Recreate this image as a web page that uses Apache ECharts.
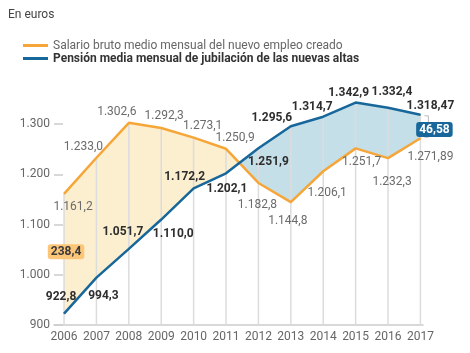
<!DOCTYPE html>
<html>
<head>
<meta charset="utf-8">
<script src="https://cdn.jsdelivr.net/npm/echarts@6/dist/echarts.min.js"></script>
<style>
  html, body { margin: 0; padding: 0; background: #fff; }
  #main { width: 470px; height: 353px; }
</style>
</head>
<body>
<div id="main"></div>
<script>
// datos
var years = [2006, 2007, 2008, 2009, 2010, 2011, 2012, 2013, 2014, 2015, 2016, 2017];
var salario = [1161.2, 1233.0, 1302.6, 1292.3, 1273.1, 1250.9, 1182.8, 1144.8, 1206.1, 1251.7, 1232.3, 1271.89];
var pension = [922.8, 994.3, 1051.7, 1110.0, 1172.2, 1202.1, 1251.9, 1295.6, 1314.7, 1342.9, 1332.4, 1318.47];
var yTicks = [900, 1000, 1100, 1200, 1300];
var gapYears = [2006, 2017];
var gapLabels = ['238,4', '46,58'];

var nameSal = 'Salario bruto medio mensual del nuevo empleo creado';
var namePen = 'Pensión media mensual de jubilación de las nuevas altas';

// posiciones de etiquetas (px respecto al punto)
var offSal = [[9, 13], [-13, -11], [-12, -11], [3, -12], [9, -12], [9, -11], [-1, 22], [-3, 19], [4, 22], [6, 14], [4, 24], [10, 19]];
var offPen = [[-3, -17], [7, 18], [-6, -17], [12, 14], [-9, -11], [1, 16], [10, 14], [-19, -8], [-11, -10], [-7, -10], [4, -16], [10, -9]];
var gapOff = [[2, -2], [14, 3]];

var ORANGE = '#f6a638', BLUE = '#17679b';
var FONT = 'Roboto, sans-serif';

function fmt(v) {
    var dec = Math.abs(v * 10 - Math.round(v * 10)) < 1e-6 ? 1 : 2;
    var s = v.toFixed(dec).split('.');
    var ent = s[0].replace(/\B(?=(\d{3})+(?!\d))/g, '.');
    return ent + ',' + s[1];
}
function fmtInt(v) {
    return String(v).replace(/\B(?=(\d{3})+(?!\d))/g, '.');
}

function lineData(vals, offs) {
    return vals.map(function (v, i) {
        return {
            value: [years[i], v],
            label: { offset: offs[i] }
        };
    });
}

var chart = echarts.init(document.getElementById('main'), null, { renderer: 'canvas' });

// relleno entre las dos curvas + lineas verticales
function renderFill(params, api) {
    var children = [];
    for (var i = 0; i < years.length - 1; i++) {
        var d0 = salario[i] - pension[i], d1 = salario[i + 1] - pension[i + 1];
        var s0 = api.coord([years[i], salario[i]]), s1 = api.coord([years[i + 1], salario[i + 1]]);
        var p0 = api.coord([years[i], pension[i]]), p1 = api.coord([years[i + 1], pension[i + 1]]);
        if ((d0 >= 0) === (d1 >= 0)) {
            children.push({
                type: 'polygon',
                shape: { points: [s0, s1, p1, p0] },
                style: { fill: d0 >= 0 ? '#fcefcf' : '#c4dfe8' }
            });
        } else {
            var t = d0 / (d0 - d1);
            var cx = years[i] + t, cy = salario[i] + (salario[i + 1] - salario[i]) * t;
            var c = api.coord([cx, cy]);
            children.push({ type: 'polygon', shape: { points: [s0, c, p0] }, style: { fill: d0 >= 0 ? '#fcefcf' : '#c4dfe8' } });
            children.push({ type: 'polygon', shape: { points: [c, s1, p1] }, style: { fill: d1 >= 0 ? '#fcefcf' : '#c4dfe8' } });
        }
    }
    for (var j = 0; j < years.length; j++) {
        var top = api.coord([years[j], Math.max(salario[j], pension[j])]);
        var bot = api.coord([years[j], 900]);
        children.push({
            type: 'line',
            shape: { x1: top[0], y1: top[1], x2: bot[0], y2: bot[1] },
            style: { stroke: '#dcdcdc', lineWidth: 1.5 }
        });
    }
    return { type: 'group', children: children };
}

// diferencias
function renderGaps(params, api) {
    var children = [];
    gapYears.forEach(function (yr, k) {
        var i = years.indexOf(yr);
        var mid = api.coord([yr, (salario[i] + pension[i]) / 2]);
        if (k === 1) {
            var a = api.coord([yr, pension[i]]), b = api.coord([yr, salario[i]]);
            var bx = a[0] + 8;
            children.push({
                type: 'polyline',
                shape: { points: [[bx - 4, a[1] + 1], [bx, a[1] + 1], [bx, b[1] - 1], [bx - 4, b[1] - 1]] },
                style: { stroke: '#bbbbbb', lineWidth: 1, fill: null }
            });
        }
        children.push({
            type: 'text',
            x: mid[0] + gapOff[k][0],
            y: mid[1] + gapOff[k][1],
            style: {
                text: gapLabels[k],
                font: 'bold 12px ' + FONT,
                fill: k === 0 ? '#3a3a3a' : '#ffffff',
                backgroundColor: k === 0 ? '#fcc679' : BLUE,
                borderRadius: 3,
                padding: [2, 3, 1, 3],
                align: 'center',
                verticalAlign: 'middle'
            }
        });
    });
    return { type: 'group', children: children };
}

var option = {
    backgroundColor: '#fff',
    animation: false,
    title: {
        text: 'En euros',
        left: 3,
        top: 4,
        textStyle: { fontFamily: FONT, fontSize: 12, fontWeight: 'normal', color: '#444' }
    },
    legend: {
        orient: 'vertical',
        left: 18,
        top: 34,
        itemWidth: 25,
        itemHeight: 3,
        itemGap: 0,
        icon: 'rect',
        data: [nameSal, namePen],
        formatter: function (n) { return n === namePen ? '{b|' + n + '}' : n; },
        textStyle: {
            fontFamily: FONT, fontSize: 12, color: '#666', lineHeight: 13,
            rich: { b: { fontFamily: FONT, fontSize: 12, fontWeight: 'bold', color: '#333', lineHeight: 13 } }
        }
    },
    grid: { left: 54, right: 47, top: 99, bottom: 28 },
    xAxis: {
        type: 'value',
        min: 2005.69,
        max: 2017.08,
        axisLine: { show: true, lineStyle: { color: '#cccccc', width: 1.5 } },
        axisTick: { show: false },
        splitLine: { show: false },
        axisLabel: {
            customValues: years,
            formatter: function (v) { return String(v); },
            fontFamily: FONT, fontSize: 12, color: '#666', margin: 6
        }
    },
    yAxis: {
        type: 'value',
        min: 900,
        max: 1350,
        axisLine: { show: false },
        axisTick: { show: true, inside: true, length: 9, customValues: yTicks, lineStyle: { color: '#cccccc', width: 1.5 } },
        splitLine: { show: false },
        axisLabel: {
            customValues: yTicks,
            formatter: fmtInt,
            fontFamily: FONT, fontSize: 12, color: '#666', margin: 4
        }
    },
    series: [
        {
            type: 'custom',
            renderItem: renderFill,
            data: [[2006, 900]],
            silent: true,
            z: 1
        },
        {
            name: nameSal,
            type: 'line',
            data: lineData(salario, offSal),
            color: ORANGE,
            symbol: 'circle',
            symbolSize: 1,
            lineStyle: { color: ORANGE, width: 2.5 },
            label: {
                show: true, position: 'inside',
                formatter: function (p) { return fmt(p.value[1]); },
                fontFamily: FONT, fontSize: 12, color: '#6b6b6b'
            },
            z: 3
        },
        {
            name: namePen,
            type: 'line',
            data: lineData(pension, offPen),
            color: BLUE,
            symbol: 'circle',
            symbolSize: 1,
            lineStyle: { color: BLUE, width: 2.5 },
            label: {
                show: true, position: 'inside',
                formatter: function (p) { return fmt(p.value[1]); },
                fontFamily: FONT, fontSize: 12, fontWeight: 'bold', color: '#2e2e2e'
            },
            z: 4
        },
        {
            type: 'custom',
            renderItem: renderGaps,
            data: [[2017, 1300]],
            silent: true,
            z: 5
        }
    ]
};

chart.setOption(option);
</script>
</body>
</html>
